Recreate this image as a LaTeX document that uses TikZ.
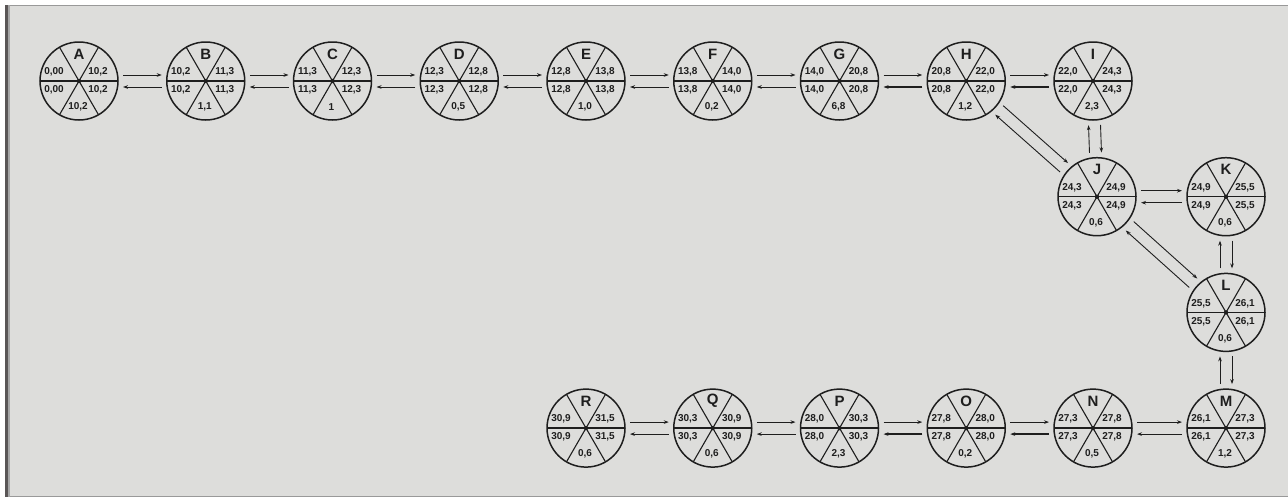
\documentclass[tikz,border=0pt]{standalone}
\usepackage{fontspec}
\setmainfont{Liberation Sans}
\usetikzlibrary{positioning, calc, arrows.meta}
\definecolor{panel}{HTML}{DDDDDB}
\definecolor{frame}{HTML}{5A5656}
\definecolor{ink}{HTML}{1E1E1E}

% one activity circle: placement, letter, ES, EF, LS, LF, duration
\newcommand{\pertnode}[7]{%
    \node[event, #1] (#2) {};
    \node[tag] (#2-n)  at ($(#2)+(0,-27)$)  {#2};
    \node[val] (#2-es) at ($(#2)+(-25,-9)$) {#3};
    \node[val] (#2-ef) at ($(#2)+(19,-9)$)  {#4};
    \node[val] (#2-ls) at ($(#2)+(-25,9)$)  {#5};
    \node[val] (#2-lf) at ($(#2)+(19,9)$)   {#6};
    \node[val] (#2-d)  at ($(#2)+(-1,26)$)  {#7};
}
% forward arrow on top, backward arrow below
\newcommand{\twoway}[3][]{%
    \draw[link, ->] ($(#2)!44pt!(#3)!6pt!90:(#3)$) -- ($(#3)!44pt!(#2)!6pt!-90:(#2)$);
    \draw[link, ->, #1] ($(#3)!44pt!(#2)!6pt!90:(#2)$) -- ($(#2)!44pt!(#3)!6pt!-90:(#3)$);
}

\begin{document}
\begin{tikzpicture}[
    x=1pt, y=-1pt,
    >={Stealth[length=5pt,width=3.6pt]},
    on grid,
    node distance=115.7pt and 126.75pt,
    event/.style={
        draw=ink,
        circle,
        line width=1.5pt,
        minimum size=78pt,
        inner sep=0pt,
        path picture={
            \draw[ink, line width=1.5pt] (path picture bounding box.west) -- (path picture bounding box.east);
            \draw[ink, line width=1.1pt] (path picture bounding box.center) ++(60:42pt) -- ++(240:84pt);
            \draw[ink, line width=1.1pt] (path picture bounding box.center) ++(120:42pt) -- ++(300:84pt);
            \fill[ink] (path picture bounding box.center) circle (2.2pt);
        }
    },
    tag/.style={font=\fontsize{15}{15}\selectfont\bfseries, text=ink, inner sep=0pt},
    val/.style={font=\fontsize{10}{10}\selectfont\bfseries, text=ink, inner sep=0pt},
    link/.style={draw=ink, line width=0.9pt},
    heavy/.style={line width=2.4pt}
]

% Frame
\useasboundingbox (0,0) rectangle (1288,498);
\fill[panel] (5,5) rectangle (1288,497);
\draw[gray!80, line width=1pt] (5,5.5) -- (1288,5.5);
\draw[gray!80, line width=1pt] (5,496.5) -- (1288,496.5);
\fill[frame] (5,5) rectangle (8,497);
\fill[gray!70] (8,5) rectangle (9.5,497);

% Top row
\pertnode{at={(79,81)}}{A}{0,00}{10,2}{0,00}{10,2}{10,2}
\pertnode{right=of A}{B}{10,2}{11,3}{10,2}{11,3}{1,1}
\pertnode{right=of B}{C}{11,3}{12,3}{11,3}{12,3}{1}
\pertnode{right=of C}{D}{12,3}{12,8}{12,3}{12,8}{0,5}
\pertnode{right=of D}{E}{12,8}{13,8}{12,8}{13,8}{1,0}
\pertnode{right=of E}{F}{13,8}{14,0}{13,8}{14,0}{0,2}
\pertnode{right=of F}{G}{14,0}{20,8}{14,0}{20,8}{6,8}
\pertnode{right=of G}{H}{20,8}{22,0}{20,8}{22,0}{1,2}
\pertnode{right=of H}{I}{22,0}{24,3}{22,0}{24,3}{2,3}

% Right side
\pertnode{below=of I, xshift=4pt}{J}{24,3}{24,9}{24,3}{24,9}{0,6}
\pertnode{right=129pt of J}{K}{24,9}{25,5}{24,9}{25,5}{0,6}
\pertnode{below=of K}{L}{25,5}{26,1}{25,5}{26,1}{0,6}
\pertnode{below=of L}{M}{26,1}{27,3}{26,1}{27,3}{1,2}

% Bottom row
\pertnode{left=133pt of M}{N}{27,3}{27,8}{27,3}{27,8}{0,5}
\pertnode{left=of N}{O}{27,8}{28,0}{27,8}{28,0}{0,2}
\pertnode{left=of O}{P}{28,0}{30,3}{28,0}{30,3}{2,3}
\pertnode{left=of P}{Q}{30,3}{30,9}{30,3}{30,9}{0,6}
\pertnode{left=of Q}{R}{30,9}{31,5}{30,9}{31,5}{0,6}

% Edges
\twoway{A}{B}
\twoway{B}{C}
\twoway{C}{D}
\twoway{D}{E}
\twoway{E}{F}
\twoway{F}{G}
\twoway[heavy]{G}{H}
\twoway[heavy]{H}{I}
\twoway{I}{J}
\twoway{H}{J}
\twoway{J}{K}
\twoway{K}{L}
\twoway{J}{L}
\twoway{L}{M}
\twoway{N}{M}
\twoway[heavy]{O}{N}
\twoway[heavy]{P}{O}
\twoway{Q}{P}
\twoway{R}{Q}

\end{tikzpicture}
\end{document}
